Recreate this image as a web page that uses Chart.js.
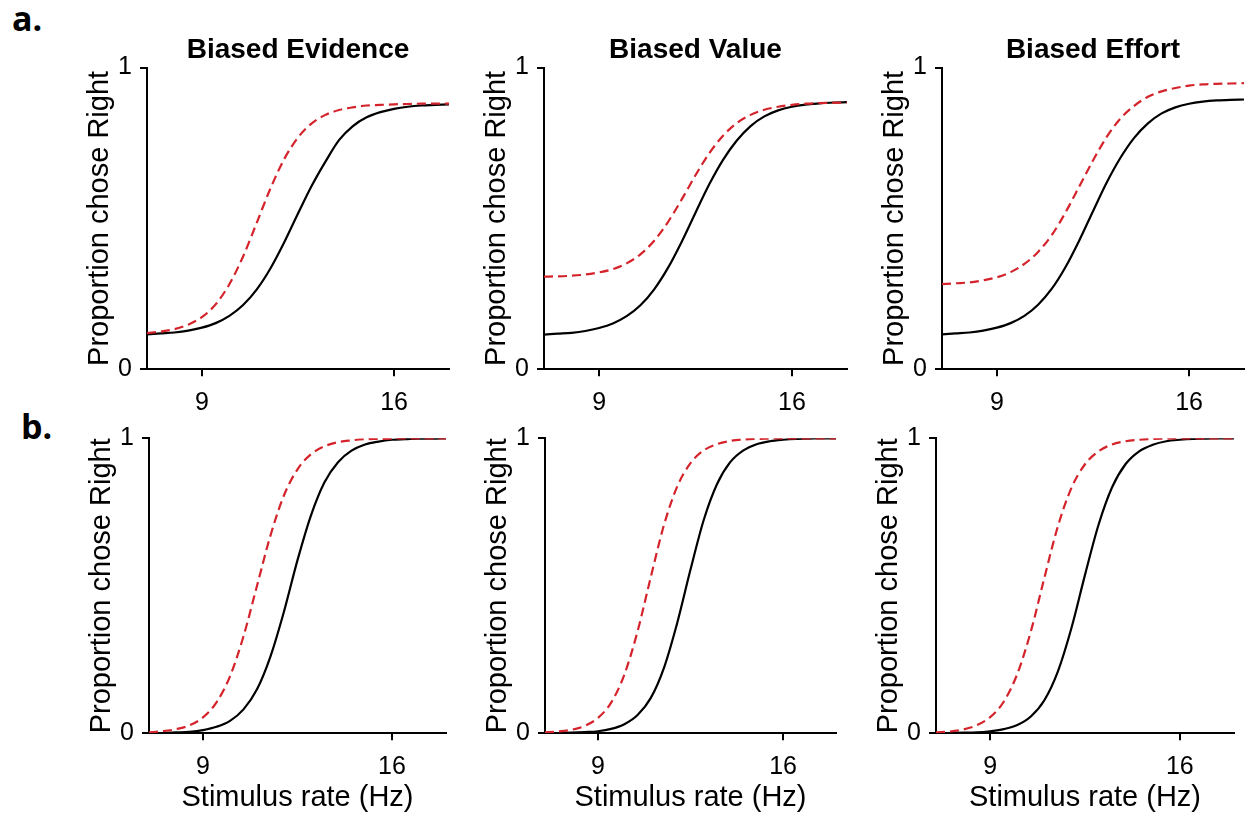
<!DOCTYPE html>
<html>
<head>
<meta charset="utf-8">
<script src="https://cdn.jsdelivr.net/npm/chart.js@4.4.1/dist/chart.umd.min.js"></script>
<style>
  html, body { margin: 0; padding: 0; background: #fff; width: 1247px; height: 815px; overflow: hidden; }
  canvas { position: absolute; }
  .plabel { position: absolute; font-family: "Open Sans", sans-serif; font-weight: 700; font-size: 34px; line-height: 34px; color: #000; }
</style>
</head>
<body>
<div class="plabel" style="left:12px; top:1px;">a.</div>
<div class="plabel" style="left:21px; top:409px;">b.</div>

<canvas id="c1"></canvas>
<canvas id="c2"></canvas>
<canvas id="c3"></canvas>
<canvas id="c4"></canvas>
<canvas id="c5"></canvas>
<canvas id="c6"></canvas>

<script>
// ---- data ----
const stimulusRate = [7, 7.5, 8, 8.5, 9, 9.5, 10, 10.5, 11, 11.5, 12, 12.5, 13, 13.5, 14, 14.5, 15, 15.5, 16, 16.5, 17, 17.5, 18];
const xTickValues = [9, 16];
const yTickValues = [0, 1];
const panelTitles = ["Biased Evidence", "Biased Value", "Biased Effort"];

// row a: black = unbiased, red dashed = biased
const evidenceA_base   = [0.116,0.119,0.122,0.128,0.138,0.153,0.177,0.213,0.265,0.335,0.421,0.516,0.608,0.688,0.760,0.806,0.835,0.852,0.863,0.870,0.874,0.876,0.878];
const evidenceA_biased = [0.120,0.125,0.133,0.148,0.173,0.215,0.282,0.374,0.486,0.600,0.697,0.768,0.815,0.843,0.859,0.868,0.874,0.876,0.878,0.879,0.880,0.880,0.880];
const valueA_base      = [0.115,0.118,0.121,0.127,0.137,0.152,0.176,0.212,0.265,0.336,0.423,0.519,0.613,0.694,0.758,0.806,0.838,0.858,0.870,0.877,0.881,0.884,0.885];
const valueA_biased    = [0.307,0.308,0.310,0.314,0.321,0.332,0.351,0.381,0.426,0.488,0.563,0.643,0.716,0.774,0.816,0.843,0.860,0.870,0.876,0.880,0.882,0.883,0.884];
const effortA_base     = [0.116,0.119,0.122,0.128,0.138,0.153,0.177,0.214,0.267,0.339,0.427,0.524,0.619,0.701,0.767,0.815,0.848,0.868,0.880,0.887,0.891,0.893,0.894];
const effortA_biased   = [0.282,0.285,0.288,0.295,0.305,0.322,0.349,0.389,0.445,0.520,0.606,0.692,0.770,0.831,0.873,0.903,0.921,0.932,0.940,0.944,0.946,0.947,0.948];

// row b
const evidenceB_base   = [0.001,0.001,0.003,0.005,0.011,0.022,0.042,0.081,0.149,0.261,0.413,0.587,0.739,0.851,0.919,0.958,0.979,0.989,0.995,0.997,0.999,0.999,1.000];
const evidenceB_biased = [0.003,0.007,0.014,0.027,0.054,0.105,0.193,0.329,0.500,0.671,0.807,0.895,0.946,0.973,0.987,0.993,0.997,0.998,0.999,1.000,1.000,1.000,1.000];
const valueB_base      = [0.000,0.001,0.002,0.004,0.007,0.015,0.031,0.062,0.120,0.223,0.375,0.555,0.723,0.844,0.919,0.959,0.980,0.990,0.995,0.998,0.999,1.000,1.000];
const valueB_biased    = [0.003,0.006,0.012,0.025,0.052,0.104,0.199,0.346,0.530,0.707,0.837,0.916,0.959,0.980,0.991,0.996,0.998,0.999,1.000,1.000,1.000,1.000,1.000];
const effortB_base     = [0.000,0.001,0.002,0.003,0.007,0.014,0.028,0.057,0.112,0.210,0.357,0.537,0.707,0.834,0.913,0.956,0.978,0.990,0.995,0.998,0.999,1.000,1.000];
const effortB_biased   = [0.003,0.006,0.013,0.027,0.055,0.107,0.201,0.345,0.527,0.702,0.832,0.912,0.956,0.979,0.990,0.995,0.998,0.999,1.000,1.000,1.000,1.000,1.000];

// ---- layout ----
const FONT = "'Liberation Sans', Arial, Helvetica, sans-serif";
Chart.defaults.font.family = FONT;
Chart.defaults.color = '#000';

const YAXIS_W = 70;
const RIGHT_PAD = 3;
const panels = [
  { id: 'c1', L: 147, R: 449,  T: 67.5,  B: 369.3, ctop: 0,   cbot: 410, title: panelTitles[0], base: evidenceA_base, biased: evidenceA_biased, xtitle: false },
  { id: 'c2', L: 544, R: 847,  T: 67.5,  B: 369.3, ctop: 0,   cbot: 410, title: panelTitles[1], base: valueA_base,    biased: valueA_biased,    xtitle: false },
  { id: 'c3', L: 942, R: 1244, T: 67.5,  B: 369.3, ctop: 0,   cbot: 410, title: panelTitles[2], base: effortA_base,   biased: effortA_biased,   xtitle: false },
  { id: 'c4', L: 149, R: 446,  T: 438.3, B: 733.3, ctop: 400, cbot: 815, title: null, base: evidenceB_base, biased: evidenceB_biased, xtitle: true },
  { id: 'c5', L: 545, R: 836,  T: 438.3, B: 733.3, ctop: 400, cbot: 815, title: null, base: valueB_base,    biased: valueB_biased,    xtitle: true },
  { id: 'c6', L: 936, R: 1234, T: 438.3, B: 733.3, ctop: 400, cbot: 815, title: null, base: effortB_base,   biased: effortB_biased,   xtitle: true },
];

const TITLE_LH = 28 * 1.2;

panels.forEach(p => {
  const cv = document.getElementById(p.id);
  const left = p.L - YAXIS_W;
  const w = Math.round(p.R - p.L + YAXIS_W + RIGHT_PAD);
  const h = p.cbot - p.ctop;
  cv.width = w; cv.height = h;
  cv.style.left = left + 'px'; cv.style.top = p.ctop + 'px';
  cv.style.width = w + 'px'; cv.style.height = h + 'px';

  const titleBoxH = p.title ? (TITLE_LH + 3) : 0;
  const padTop = (p.T - p.ctop) - titleBoxH;
  const xAxisH = p.cbot - p.B;

  new Chart(cv, {
    type: 'line',
    data: {
      datasets: [
        { data: stimulusRate.map((x, i) => ({ x, y: p.biased[i] })), borderColor: '#d4232b', borderWidth: 2.2, borderDash: [9, 5], pointRadius: 0, cubicInterpolationMode: 'monotone', fill: false },
        { data: stimulusRate.map((x, i) => ({ x, y: p.base[i] })),   borderColor: '#000000', borderWidth: 2.2, pointRadius: 0, cubicInterpolationMode: 'monotone', fill: false },
      ]
    },
    options: {
      responsive: false,
      devicePixelRatio: 1,
      animation: false,
      events: [],
      layout: { padding: { top: padTop, left: 0, right: RIGHT_PAD, bottom: 0 } },
      plugins: {
        legend: { display: false },
        tooltip: { enabled: false },
        title: {
          display: !!p.title,
          text: p.title || '',
          fullSize: false,
          color: '#000',
          font: { family: FONT, size: 28, weight: 'bold', lineHeight: 1.2 },
          padding: { top: 3, bottom: 0 }
        }
      },
      scales: {
        x: {
          type: 'linear',
          min: 7, max: 18,
          afterBuildTicks: s => { s.ticks = xTickValues.map(v => ({ value: v })); },
          afterFit: s => { s.height = xAxisH; },
          ticks: { font: { family: FONT, size: 25 }, color: '#000', padding: 12, maxRotation: 0, autoSkip: false },
          grid: { display: true, drawOnChartArea: false, drawTicks: true, tickLength: 7, color: '#000', lineWidth: 2 },
          border: { display: true, color: '#000', width: 2 },
          title: { display: p.xtitle, text: 'Stimulus rate (Hz)', color: '#000', font: { family: FONT, size: 29 }, padding: { top: 0, bottom: 0 } }
        },
        y: {
          type: 'linear',
          min: 0, max: 1,
          afterBuildTicks: s => { s.ticks = yTickValues.map(v => ({ value: v })); },
          afterFit: s => { s.width = YAXIS_W; },
          ticks: { font: { family: FONT, size: 25 }, color: '#000', padding: 8, autoSkip: false },
          grid: { display: true, drawOnChartArea: false, drawTicks: true, tickLength: 7, color: '#000', lineWidth: 2 },
          border: { display: true, color: '#000', width: 2 },
          title: { display: true, text: 'Proportion chose Right', color: '#000', font: { family: FONT, size: 29 }, padding: { top: 6, bottom: 0 } }
        }
      }
    }
  });
});
</script>
</body>
</html>
